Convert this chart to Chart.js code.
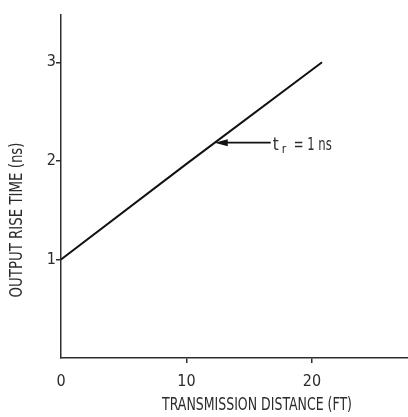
<!DOCTYPE html>
<html>
<head>
<meta charset="utf-8">
<script src="https://cdn.jsdelivr.net/npm/chart.js@4/dist/chart.umd.min.js"></script>
<style>
  html, body { margin: 0; padding: 0; background: #ffffff; }
  #wrap { width: 408px; height: 417px; position: relative; }
</style>
</head>
<body>
<div id="wrap"><canvas id="c" width="408" height="417"></canvas></div>
<script>
// ---- data ----
const distanceFt = [0, 10, 20.8];
const riseTimeNs = [1, 1.97, 3];
const xTickValues = [0, 10, 20];
const yTickValues = [1, 2, 3];
const xTitle = 'TRANSMISSION DISTANCE (FT)';
const yTitle = 'OUTPUT RISE TIME (ns)';
const noteAt = [12.25, 2.185];           // point on the curve the arrow points to
const noteMain = 't';
const noteSub = 'r';
const noteRest = '= 1 ns';

const FONT = '"Liberation Sans Narrow", "DejaVu Sans Condensed", "Arial Narrow", sans-serif';
const INK = '#2b2b2b';
const AXIS = '#2a302c';

function condensedText(ctx, text, cx, cy, width, size, rot) {
  ctx.save();
  ctx.font = size + 'px ' + FONT;
  const w = ctx.measureText(text).width;
  ctx.translate(cx, cy);
  ctx.rotate(rot);
  ctx.scale(width / w, 1);
  ctx.fillStyle = INK;
  ctx.textAlign = 'center';
  ctx.textBaseline = 'middle';
  ctx.fillText(text, 0, 0);
  ctx.restore();
}

function condensedLeft(ctx, text, x, baseline, width, size) {
  ctx.save();
  ctx.font = size + 'px ' + FONT;
  const w = ctx.measureText(text).width;
  ctx.translate(x, baseline);
  ctx.scale(width / w, 1);
  ctx.fillStyle = INK;
  ctx.textAlign = 'left';
  ctx.textBaseline = 'alphabetic';
  ctx.fillText(text, 0, 0);
  ctx.restore();
}

const decor = {
  id: 'decor',
  afterDraw(chart) {
    const ctx = chart.ctx;
    const xs = chart.scales.x, ys = chart.scales.y;
    const a = chart.chartArea;
    // axis titles
    condensedText(ctx, xTitle, a.left + 196, 405, 190, 18, 0);
    condensedText(ctx, yTitle, 17, 220, 155, 18, -Math.PI / 2);
    // annotation arrow
    const tipX = xs.getPixelForValue(noteAt[0]);
    const tipY = ys.getPixelForValue(noteAt[1]);
    const tailX = tipX + 56;
    ctx.save();
    ctx.strokeStyle = '#111';
    ctx.fillStyle = '#111';
    ctx.lineWidth = 1.6;
    ctx.beginPath();
    ctx.moveTo(tipX + 10, tipY);
    ctx.lineTo(tailX, tipY);
    ctx.stroke();
    ctx.beginPath();
    ctx.moveTo(tipX, tipY);
    ctx.lineTo(tipX + 13, tipY - 3.5);
    ctx.lineTo(tipX + 13, tipY + 3.5);
    ctx.closePath();
    ctx.fill();
    ctx.restore();
    // label
    const base = tipY + 7;
    condensedLeft(ctx, noteMain, tailX + 2, base, 6, 18);
    condensedLeft(ctx, noteSub, tailX + 11, base + 3, 4.5, 12);
    condensedLeft(ctx, noteRest, tailX + 23, base, 38, 18);
  }
};

new Chart(document.getElementById('c'), {
  type: 'scatter',
  data: {
    datasets: [{
      data: distanceFt.map((d, i) => ({ x: d, y: riseTimeNs[i] })),
      showLine: true,
      borderColor: '#111111',
      borderWidth: 2,
      pointRadius: 0,
      tension: 0,
      clip: false
    }]
  },
  options: {
    responsive: false,
    animation: false,
    devicePixelRatio: 1,
    layout: { padding: { top: 15, right: 0, left: 0, bottom: 0 } },
    plugins: { legend: { display: false }, tooltip: { enabled: false }, title: { display: false } },
    scales: {
      x: {
        type: 'linear',
        min: 0,
        max: 27.65,
        afterBuildTicks: s => { s.ticks = xTickValues.map(v => ({ value: v })); },
        afterFit: s => { s.height = 59; },
        grid: {
          drawOnChartArea: false,
          drawTicks: true,
          tickLength: 5,
          lineWidth: 1.5,
          color: c => (c.tick && c.tick.value === 0) ? 'rgba(0,0,0,0)' : AXIS
        },
        border: { display: true, color: AXIS, width: 1.5 },
        ticks: {
          autoSkip: false, maxRotation: 0, padding: 9,
          color: INK, font: { family: FONT, size: 16 },
          callback: v => String(v)
        }
      },
      y: {
        type: 'linear',
        min: 0,
        max: 3.48,
        afterBuildTicks: s => { s.ticks = yTickValues.map(v => ({ value: v })); },
        afterFit: s => { s.width = 61; },
        grid: {
          drawOnChartArea: false,
          drawTicks: true,
          tickLength: 5,
          lineWidth: 1.5,
          color: AXIS
        },
        border: { display: true, color: AXIS, width: 1.5 },
        ticks: {
          padding: 0,
          color: INK, font: { family: FONT, size: 16 },
          callback: v => String(v)
        }
      }
    }
  },
  plugins: [decor]
});
</script>
</body>
</html>
